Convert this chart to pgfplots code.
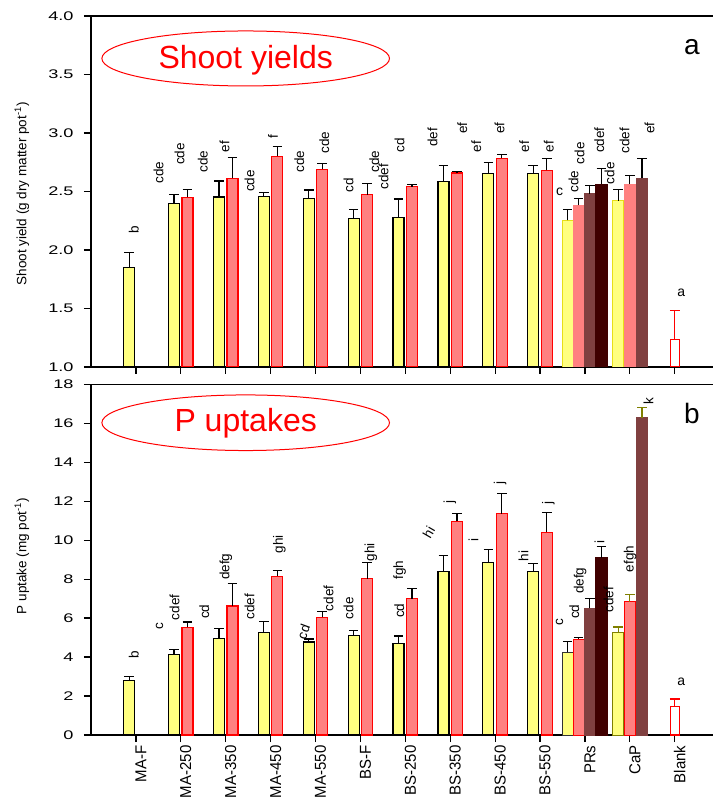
\documentclass[border=0pt]{standalone}
\usepackage{pgfplots}
\pgfplotsset{compat=1.18}
\usepackage{fontspec}
\setmainfont{Liberation Sans}
\newfontfamily\tickfont{Liberation Sans}[FakeStretch=1.45]
\newfontfamily\condfont{Liberation Sans}[FakeStretch=0.95]
\definecolor{yel}{RGB}{255,255,128}
\definecolor{pnk}{RGB}{255,128,128}
\definecolor{brn}{RGB}{128,64,64}
\definecolor{drk}{RGB}{64,0,0}
\definecolor{oli}{RGB}{128,128,0}
\pgfplotsset{
  panel/.style={scale only axis, width=623pt, xmin=-1, xmax=12.875,
    axis line style={line width=1.3pt}, tick style={line width=1.2pt, black},
    tick align=outside, tick pos=left, major tick length=7pt,
    xtick={0,...,12},
    yticklabel style={font=\tickfont\fontsize{12.5}{12.5}\selectfont},
    yticklabel shift=7pt,
    /pgf/number format/assume math mode=true,
    ylabel style={anchor=center, rotate=0, font=\fontsize{13.5}{14}\selectfont},
    clip=true},
  eb/.style={error bars/y dir=plus, error bars/y explicit,
    error bars/error bar style={line width=1.2pt, #1},
    error bars/error mark options={rotate=90, line width=1.2pt, mark size=4.8pt, #1}},
  eb/.default=black,
  bar/.style={ybar, bar width=#1, bar shift=0},
  bar/.default=0.245,
}
\tikzset{
  lab/.style={rotate=90, font=\fontsize{13.5}{14}\selectfont, inner sep=0pt},
  ulab/.style={font=\fontsize{14}{14}\selectfont, inner sep=0pt},
}
\begin{document}
\begin{tikzpicture}
\useasboundingbox (0,0) rectangle (712pt,800pt);
% ---------- top panel ----------
\begin{axis}[panel, at={(91pt,433pt)}, anchor=south west, height=351pt,
  ymin=1, ymax=4, ytick={1,1.5,...,4},
  yticklabel style={/pgf/number format/.cd, fixed, fixed zerofill, precision=1},
  xticklabels={},
  ylabel={Shoot yield (g dry matter pot\textsuperscript{-1})},
  ylabel style={at={(axis description cs:-0.111,0.493)}}]
\addplot[bar, fill=yel, draw=black, line width=1.2pt, eb] coordinates {
 (-0.15,1.849) +- (0,0.128) (0.85,2.399) +- (0,0.077) (1.85,2.453) +- (0,0.137) (2.85,2.456) +- (0,0.037)
 (3.85,2.442) +- (0,0.071) (4.85,2.271) +- (0,0.074) (5.85,2.279) +- (0,0.157) (6.85,2.584) +- (0,0.139)
 (7.85,2.652) +- (0,0.094) (8.85,2.652) +- (0,0.069)};
\addplot[bar, fill=pnk, draw=red, line width=1.2pt, eb] coordinates {
 (1.15,2.450) +- (0,0.069) (2.15,2.613) +- (0,0.179) (3.15,2.801) +- (0,0.085) (4.15,2.689) +- (0,0.049)
 (5.15,2.473) +- (0,0.097) (6.15,2.541) +- (0,0.020) (7.15,2.658) +- (0,0.011) (8.15,2.783) +- (0,0.032)
 (9.15,2.681) +- (0,0.100)};
% PRs
\addplot[bar=0.25, fill=yel, draw=yellow!90!black, line width=0.8pt, eb] coordinates {(9.615,2.254) +- (0,0.094)};
\addplot[bar=0.25, fill=pnk, draw=pnk, line width=0.8pt, eb] coordinates {(9.86,2.382) +- (0,0.057)};
\addplot[bar=0.25, fill=brn, draw=brn, line width=0.8pt, eb] coordinates {(10.11,2.481) +- (0,0.072)};
\addplot[bar=0.25, fill=drk, draw=drk, line width=0.8pt, eb] coordinates {(10.365,2.564) +- (0,0.131)};
% CaP
\addplot[bar=0.24, fill=yel, draw=yellow!90!black, line width=0.8pt, eb] coordinates {(10.74,2.422) +- (0,0.097)};
\addplot[bar=0.25, fill=pnk, draw=pnk, line width=0.8pt, eb] coordinates {(11,2.564) +- (0,0.074)};
\addplot[bar=0.24, fill=brn, draw=brn, line width=0.8pt, eb] coordinates {(11.27,2.613) +- (0,0.168)};
% Blank
\addplot[bar=0.2, fill=white, draw=red, line width=1.2pt, eb=red] coordinates {(12,1.233) +- (0,0.251)};
% ellipse + labels
\draw[red, line width=1pt] (axis cs:2.445,3.637) ellipse [x radius=143.8pt, y radius=27.5pt];
\node[red, font=\fontsize{32}{32}\selectfont] at (axis cs:2.445,3.62) {Shoot yields};
\node[font=\fontsize{28}{28}\selectfont] at (axis cs:12.383,3.738) {a};
\node[lab] at (axis cs:-0.045,2.171) {b};
\node[lab] at (axis cs:0.503,2.661) {cde};
\node[lab] at (axis cs:0.971,2.821) {cde};
\node[lab] at (axis cs:1.492,2.755) {cde};
\node[lab] at (axis cs:1.973,2.883) {ef};
\node[lab] at (axis cs:2.530,2.590) {cde};
\node[lab] at (axis cs:3.051,2.968) {f};
\node[lab] at (axis cs:3.637,2.755) {cde};
\node[lab] at (axis cs:4.194,2.917) {cde};
\node[lab] at (axis cs:4.735,2.556) {cd};
\node[lab] at (axis cs:5.307,2.755) {cde};
\node[lab] at (axis cs:5.514,2.627) {cdef};
\node[lab] at (axis cs:5.871,2.897) {cd};
\node[lab] at (axis cs:6.606,2.963) {def};
\node[lab] at (axis cs:7.267,3.040) {ef};
\node[lab] at (axis cs:7.579,2.883) {ef};
\node[lab] at (axis cs:8.098,3.040) {ef};
\node[lab] at (axis cs:8.648,2.883) {ef};
\node[lab] at (axis cs:9.198,2.883) {ef};
\node[ulab] at (axis cs:9.434,2.498) {c};
\node[lab] at (axis cs:9.746,2.584) {cde};
\node[lab] at (axis cs:9.880,2.826) {cde};
\node[lab] at (axis cs:10.318,2.940) {cdef};
\node[lab] at (axis cs:10.548,2.656) {cde};
\node[lab] at (axis cs:10.882,2.932) {cdef};
\node[lab] at (axis cs:11.439,3.040) {ef};
\node[ulab] at (axis cs:12.145,1.630) {a};
\end{axis}
% ---------- bottom panel ----------
\begin{axis}[panel, at={(91pt,65pt)}, anchor=south west, height=350.7pt,
  ymin=0, ymax=18, ytick={0,2,...,18},
  xticklabels={MA-F,MA-250,MA-350,MA-450,MA-550,BS-F,BS-250,BS-350,BS-450,BS-550,PRs,CaP,Blank},
  xticklabel style={rotate=90, anchor=east, yshift=-5pt, font=\condfont\fontsize{15.8}{16}\selectfont},
  ylabel={P uptake (mg pot\textsuperscript{-1})},
  ylabel style={at={(axis description cs:-0.111,0.51)}}]
\addplot[bar, fill=yel, draw=black, line width=1.2pt, eb] coordinates {
 (-0.15,2.79) +- (0,0.22) (0.85,4.14) +- (0,0.24) (1.85,4.96) +- (0,0.50) (2.85,5.25) +- (0,0.57)
 (3.85,4.77) +- (0,0.16) (4.85,5.12) +- (0,0.25) (5.85,4.71) +- (0,0.37) (6.85,8.40) +- (0,0.81)
 (7.85,8.87) +- (0,0.66) (8.85,8.40) +- (0,0.41)};
\addplot[bar, fill=pnk, draw=red, line width=1.2pt, eb] coordinates {
 (1.15,5.53) +- (0,0.27) (2.15,6.62) +- (0,1.17) (3.15,8.15) +- (0,0.29) (4.15,6.04) +- (0,0.31)
 (5.15,8.02) +- (0,0.83) (6.15,7.00) +- (0,0.53) (7.15,10.97) +- (0,0.39) (8.15,11.35) +- (0,1.06)
 (9.15,10.41) +- (0,0.99)};
% PRs
\addplot[bar=0.25, fill=yel, draw=black!80, line width=1pt, eb] coordinates {(9.615,4.24) +- (0,0.55)};
\addplot[bar=0.25, fill=pnk, draw=red, line width=0.8pt, eb] coordinates {(9.86,4.93) +- (0,0.08)};
\addplot[bar=0.25, fill=brn, draw=brn, line width=0.8pt, eb] coordinates {(10.11,6.50) +- (0,0.51)};
\addplot[bar=0.25, fill=drk, draw=drk, line width=0.8pt, eb] coordinates {(10.365,9.09) +- (0,0.60)};
% CaP
\addplot[bar=0.24, fill=yel, draw=oli, line width=1pt, eb=oli] coordinates {(10.74,5.27) +- (0,0.27)};
\addplot[bar=0.25, fill=pnk, draw=red, line width=1pt, eb=oli] coordinates {(11,6.83) +- (0,0.37)};
\addplot[bar=0.24, fill=brn, draw=brn, line width=0.8pt, eb=oli] coordinates {(11.27,16.29) +- (0,0.51)};
% Blank
\addplot[bar=0.2, fill=white, draw=red, line width=1.2pt, eb=red] coordinates {(12,1.45) +- (0,0.40)};
\draw[red, line width=1pt] (axis cs:2.445,16.027) ellipse [x radius=143.8pt, y radius=27.8pt];
\node[red, font=\fontsize{32}{32}\selectfont] at (axis cs:2.445,15.98) {P uptakes};
\node[font=\fontsize{28}{28}\selectfont] at (axis cs:12.383,16.478) {b};
\node[lab] at (axis cs:-0.045,4.107) {b};
\node[lab] at (axis cs:0.526,5.611) {c};
\node[lab] at (axis cs:0.860,6.556) {cdef};
\node[lab] at (axis cs:1.521,6.330) {cd};
\node[lab] at (axis cs:2.004,8.640) {defg};
\node[lab] at (axis cs:2.530,6.586) {cdef};
\node[lab] at (axis cs:3.198,9.790) {ghi};
\node[lab, rotate=-20] at (axis cs:3.733,5.303) {cd};
\node[lab] at (axis cs:4.290,7.018) {cdef};
\node[lab] at (axis cs:4.735,6.504) {cde};
\node[lab] at (axis cs:5.234,9.379) {ghi};
\node[lab] at (axis cs:5.864,6.381) {cd};
\node[lab] at (axis cs:5.871,8.470) {fgh};
\node[lab, rotate=-30] at (axis cs:6.520,10.40) {hi};
\node[lab] at (axis cs:6.990,11.977) {j};
\node[lab] at (axis cs:7.519,10.010) {i};
\node[lab] at (axis cs:8.114,12.952) {j};
\node[lab] at (axis cs:8.633,9.189) {hi};
\node[lab] at (axis cs:9.189,11.925) {j};
\node[lab] at (axis cs:9.434,5.816) {c};
\node[lab] at (axis cs:9.762,6.330) {cd};
\node[lab] at (axis cs:9.895,7.921) {defg};
\node[lab] at (axis cs:10.325,9.923) {i};
\node[lab] at (axis cs:10.526,6.930) {cdef};
\node[lab] at (axis cs:11.009,9.035) {efgh};
\node[lab] at (axis cs:11.416,17.161) {k};
\node[ulab] at (axis cs:12.145,2.736) {a};
\end{axis}
\end{tikzpicture}
\end{document}
